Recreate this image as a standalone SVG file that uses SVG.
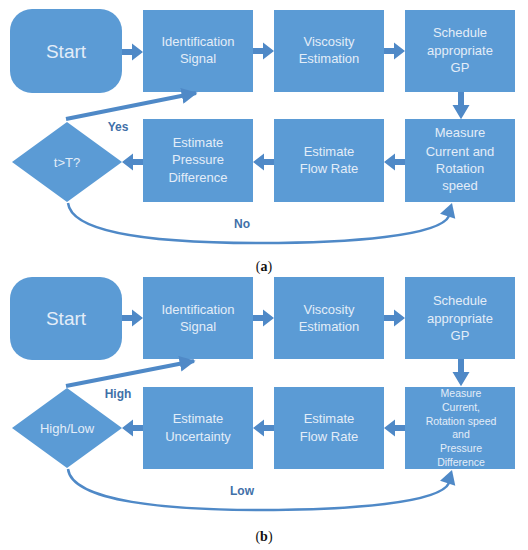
<svg xmlns="http://www.w3.org/2000/svg" width="528" height="550" viewBox="0 0 528 550">
<style>
.box{fill:#5b9bd5;}
.t{font-family:"Liberation Sans",Arial,sans-serif;font-size:13px;fill:#e3edf8;text-anchor:middle;}
.ts{font-family:"Liberation Sans",Arial,sans-serif;font-size:10.5px;fill:#e3edf8;text-anchor:middle;}
.big{font-family:"Liberation Sans",Arial,sans-serif;font-size:19px;fill:#e3edf8;text-anchor:middle;}
.lbl{font-family:"Liberation Sans",Arial,sans-serif;font-size:12px;font-weight:bold;fill:#3f70a8;text-anchor:middle;}
.cap{font-family:"Liberation Serif","Times New Roman",serif;font-size:14px;fill:#111;text-anchor:middle;}
.blk{fill:#4f89c7;}
.ln{fill:none;stroke:#4f89c7;stroke-width:4;}
.cv{fill:none;stroke:#4f89c7;stroke-width:2.5;}
</style>
<defs>
<marker id="ah" viewBox="0 0 10 10" refX="9" refY="5" markerWidth="4" markerHeight="4" orient="auto" markerUnits="strokeWidth">
<path d="M0,0 L10,5 L0,10 z" fill="#4f89c7"/>
</marker>
<path id="ar" d="M0,-3 L10,-3 L10,-8.5 L21,0 L10,8.5 L10,3 L0,3 z"/>
<path id="hd" d="M0,0 L8,14 L-8,14 z"/>
</defs>

<!-- Panel (a) -->
<g id="a-start"><rect class="box" x="10" y="9" width="112" height="84" rx="22"/><text class="big" x="66" y="58">Start</text></g>
<g id="a-ident"><rect class="box" x="143" y="10" width="110" height="82"/><text class="t" x="198" y="46">Identification</text><text class="t" x="198" y="63">Signal</text></g>
<g id="a-visc"><rect class="box" x="274" y="10" width="110" height="82"/><text class="t" x="329" y="46">Viscosity</text><text class="t" x="329" y="63">Estimation</text></g>
<g id="a-sched"><rect class="box" x="405" y="10" width="110" height="82"/><text class="t" x="460" y="37">Schedule</text><text class="t" x="460" y="55">appropriate</text><text class="t" x="460" y="72">GP</text></g>
<g id="a-measure"><rect class="box" x="405" y="119" width="110" height="83"/><text class="t" x="460" y="137">Measure</text><text class="t" x="460" y="156">Current and</text><text class="t" x="460" y="173">Rotation</text><text class="t" x="460" y="190">speed</text></g>
<g id="a-flow"><rect class="box" x="274" y="119" width="110" height="83"/><text class="t" x="329" y="156">Estimate</text><text class="t" x="329" y="173">Flow Rate</text></g>
<g id="a-press"><rect class="box" x="143" y="119" width="110" height="83"/><text class="t" x="198" y="147">Estimate</text><text class="t" x="198" y="164">Pressure</text><text class="t" x="198" y="182">Difference</text></g>
<g id="a-dec"><path class="box" d="M67,122 L122,162 L67,202 L12,162 z"/><text class="t" x="67" y="167">t&gt;T?</text></g>

<g id="a-connectors">
<use href="#ar" class="blk" transform="translate(122,52)"/>
<use href="#ar" class="blk" transform="translate(253,51)"/>
<use href="#ar" class="blk" transform="translate(384,51)"/>
<use href="#ar" class="blk" transform="translate(461,92) rotate(90) scale(1.3,1)"/>
<use href="#ar" class="blk" transform="translate(405,162) rotate(180)"/>
<use href="#ar" class="blk" transform="translate(274,162) rotate(180)"/>
<use href="#ar" class="blk" transform="translate(143,162) rotate(180)"/>
<path class="ln" d="M66,119 L196,93" marker-end="url(#ah)"/>
<path class="cv" d="M68,203 C72,236 170,243 260,243 C350,243 440,236 449,216"/>
<use href="#hd" class="blk" transform="translate(452,203) rotate(18)"/>
<text class="lbl" x="118" y="131">Yes</text>
<text class="lbl" x="242" y="228">No</text>
</g>
<text class="cap" x="264" y="271">(<tspan font-weight="bold">a</tspan>)</text>

<!-- Panel (b) -->
<g id="b-start"><rect class="box" x="10" y="277" width="112" height="83" rx="22"/><text class="big" x="66" y="325">Start</text></g>
<g id="b-ident"><rect class="box" x="143" y="277" width="110" height="82"/><text class="t" x="198" y="314">Identification</text><text class="t" x="198" y="331">Signal</text></g>
<g id="b-visc"><rect class="box" x="274" y="277" width="110" height="82"/><text class="t" x="329" y="314">Viscosity</text><text class="t" x="329" y="331">Estimation</text></g>
<g id="b-sched"><rect class="box" x="405" y="277" width="110" height="82"/><text class="t" x="460" y="305">Schedule</text><text class="t" x="460" y="323">appropriate</text><text class="t" x="460" y="340">GP</text></g>
<g id="b-measure"><rect class="box" x="405" y="387" width="110" height="82"/><text class="ts" x="461" y="397">Measure</text><text class="ts" x="461" y="411">Current,</text><text class="ts" x="461" y="425">Rotation speed</text><text class="ts" x="461" y="438">and</text><text class="ts" x="461" y="452">Pressure</text><text class="ts" x="461" y="466">Difference</text></g>
<g id="b-flow"><rect class="box" x="274" y="387" width="110" height="82"/><text class="t" x="329" y="423">Estimate</text><text class="t" x="329" y="441">Flow Rate</text></g>
<g id="b-unc"><rect class="box" x="143" y="387" width="110" height="82"/><text class="t" x="198" y="423">Estimate</text><text class="t" x="198" y="441">Uncertainty</text></g>
<g id="b-dec"><path class="box" d="M67,388 L122,428 L67,468 L12,428 z"/><text class="t" x="67" y="433">High/Low</text></g>

<g id="b-connectors">
<use href="#ar" class="blk" transform="translate(122,318)"/>
<use href="#ar" class="blk" transform="translate(253,318)"/>
<use href="#ar" class="blk" transform="translate(384,318)"/>
<use href="#ar" class="blk" transform="translate(461,359) rotate(90) scale(1.3,1)"/>
<use href="#ar" class="blk" transform="translate(405,428) rotate(180)"/>
<use href="#ar" class="blk" transform="translate(274,428) rotate(180)"/>
<use href="#ar" class="blk" transform="translate(143,428) rotate(180)"/>
<path class="ln" d="M66,386 L194,361" marker-end="url(#ah)"/>
<path class="cv" d="M68,469 C72,502 170,510 260,510 C350,510 440,503 449,483"/>
<use href="#hd" class="blk" transform="translate(452,470) rotate(18)"/>
<text class="lbl" x="118" y="398">High</text>
<text class="lbl" x="242" y="495">Low</text>
</g>
<text class="cap" x="264" y="541">(<tspan font-weight="bold">b</tspan>)</text>
</svg>
